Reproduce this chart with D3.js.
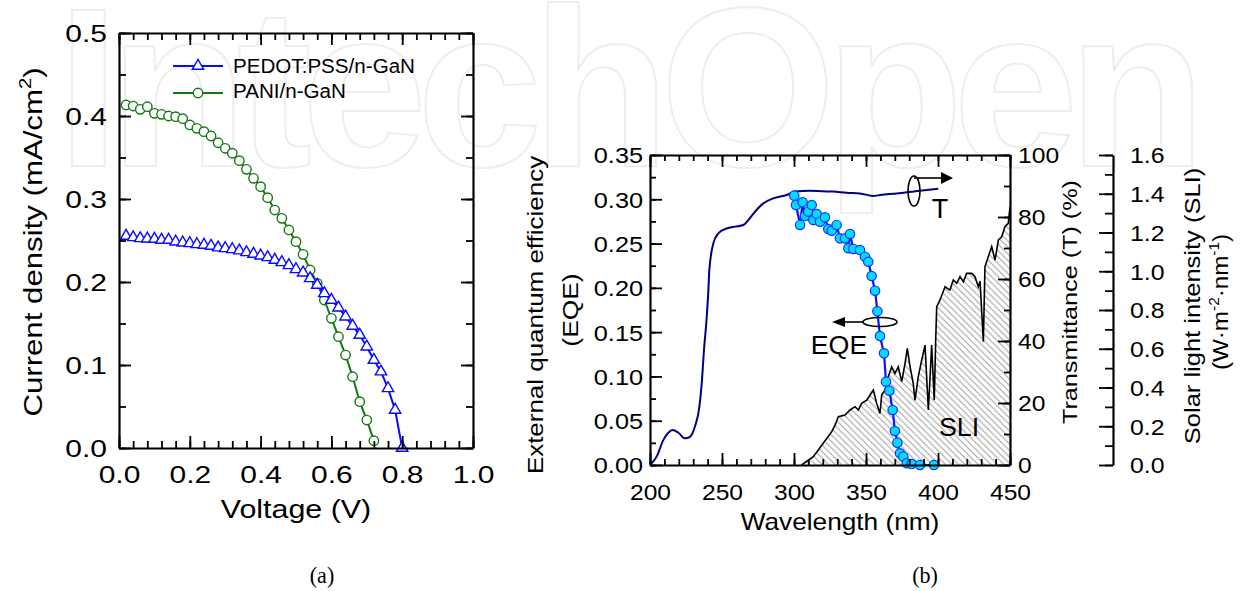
<!DOCTYPE html>
<html>
<head>
<meta charset="utf-8">
<title>J-V curves and EQE / transmittance / solar spectrum</title>
<script src="https://cdn.jsdelivr.net/npm/d3@7"></script>
<style>
  body { margin: 0; background: #fff; }
  svg { display: block; }
</style>
</head>
<body>
<script>
const FONT = "'Liberation Sans', Arial, sans-serif";

// ---- panel (a): current density vs voltage
const pedotV = [0.02,0.04,0.06,0.08,0.10,0.12,0.14,0.16,0.18,0.20,0.22,0.24,0.26,0.28,0.30,0.32,0.34,0.36,0.38,0.40,
                0.42,0.44,0.46,0.48,0.50,0.52,0.54,0.56,0.58,0.60,0.62,0.64,0.66,0.68,0.70,0.72,0.74,0.76,0.78,0.80];
const pedotJ = [0.2554,0.2538,0.2526,0.2522,0.2518,0.2506,0.2506,0.2486,0.2474,0.2466,
                0.2454,0.2446,0.2434,0.2414,0.2406,0.2394,0.2378,0.2357,0.2337,0.2317,
                0.2297,0.2265,0.2237,0.2201,0.2153,0.2112,0.2044,0.1964,0.1863,0.1783,
                0.1691,0.1582,0.1470,0.1361,0.1221,0.1060,0.0920,0.0719,0.0458,0.0];
const paniV = [0.02,0.04,0.06,0.08,0.10,0.12,0.14,0.16,0.18,0.20,0.22,0.24,0.26,0.28,0.30,0.32,0.34,0.36,
               0.38,0.40,0.42,0.44,0.46,0.48,0.50,0.52,0.54,0.56,0.58,0.60,0.62,0.64,0.66,0.68,0.70,0.72];
const paniJ = [0.4133,0.4120,0.4080,0.4112,0.4032,0.4020,0.4000,0.3992,0.3968,0.3892,
               0.3851,0.3811,0.3759,0.3678,0.3611,0.3551,0.3462,0.3357,0.3249,0.3149,
               0.3016,0.2867,0.2767,0.2627,0.2486,0.2333,0.2145,0.1984,0.1783,0.1562,
               0.1341,0.1120,0.0859,0.0558,0.0337,0.0088];
const seriesNames = ['PEDOT:PSS/n-GaN', 'PANI/n-GaN'];
const voltTicks = [0, 0.2, 0.4, 0.6, 0.8, 1.0];
const currTicks = [0, 0.1, 0.2, 0.3, 0.4, 0.5];

// ---- panel (b): transmittance, EQE, solar light intensity
const tWl = [200,204.6,209.3,212.7,215.7,219.7,224.3,227.8,231.2,234.3,235.9,237.5,239.4,240.5,241.2,244,247.4,
             253.2,259,264.8,268.3,272.9,278.7,285.6,294.9,300.7,311,320,327,336.6,345.8,355,360,371.3,387.5,400.2];
const tVal = [0,2.7,8.1,10.4,11.3,10.4,8.6,9.1,12.4,18.8,26.3,37.1,47.8,56,62.9,71.5,74.7,
              76.3,76.9,77.4,79,81.7,84.4,86,87.1,88.2,88.5,88.3,88.2,87.8,87.6,86.8,87.1,87.6,88.5,89.1];
const eqeWl = [300.2,301.4,304.2,306.0,307.6,309.9,312.3,313.4,315.8,318.1,321.5,323.8,326.2,329.6,331.9,335.4,
               337.7,338.9,341.2,345.8,349.3,351.6,353.9,356.3,357.9,359.7,362.5,363.9,366.2,368.5,370.1,371.8,
               373.6,375.9,378.3,381.7,387.5,397.2];
const eqeVal = [0.3041,0.2935,0.2710,0.2966,0.2811,0.2860,0.2935,0.2766,0.2834,0.2747,0.2796,0.2664,0.2645,0.2710,
                0.2559,0.2559,0.2447,0.2608,0.2439,0.2427,0.2352,0.2295,0.2134,0.1968,0.1735,0.1456,0.1261,0.0941,
                0.0839,0.0621,0.0384,0.0252,0.0132,0.0094,0.0019,0.0011,0,0];
const sliWl = [305.3,313.4,320.3,326.2,328.5,330.8,335.4,338.9,342.4,344.7,347,350.5,352.8,355.1,357.4,359.7,
               360.9,363.2,365.5,367.8,370.1,372.4,374.8,377.1,378.7,380.6,382.8,384,386.3,388.7,391,393.3,
               395.6,397.4,398.4,399.1,401.4,404.9,408.3,410.6,413,415.3,417.6,419.9,423.4,425.7,428,429.2,
               431.5,432.6,434.9,437.3,439.6,441.9,444.2,446.5,448.8,450];
const sliVal = [0,0.043,0.112,0.172,0.206,0.249,0.258,0.284,0.301,0.284,0.318,0.335,0.361,0.387,0.318,0.266,
                0.361,0.387,0.456,0.507,0.473,0.507,0.430,0.525,0.602,0.507,0.421,0.335,0.456,0.542,0.619,0.284,
                0.619,0.335,0.645,0.817,0.852,0.92,0.903,0.955,0.938,0.972,0.946,0.989,0.989,0.972,0.92,0.95,
                0.636,1.023,1.075,1.127,1.058,1.161,1.178,1.23,1.247,1.333];
const wlTicks = [200, 250, 300, 350, 400, 450];
const eqeTicks = [0, 0.05, 0.10, 0.15, 0.20, 0.25, 0.30, 0.35];
const tTicks = [0, 20, 40, 60, 80, 100];
const sliTicks = [0, 0.2, 0.4, 0.6, 0.8, 1.0, 1.2, 1.4, 1.6];

const width = 1245, height = 591;
const svg = d3.select('body').append('svg').attr('width', width).attr('height', height);

// faint watermark behind everything, in two words so each fits the page
[['Intech', 57], ['Open', 660]].forEach(([word, wx]) => {
  svg.append('text')
    .attr('x', wx).attr('y', 166)
    .attr('font-family', FONT).attr('font-weight', 'bold').attr('font-size', 226)
    .attr('letter-spacing', -10.5)
    .attr('fill', 'none').attr('stroke', '#eeeeee').attr('stroke-width', 2)
    .text(word);
});

function addText(parent, str, x, y, size, sx, o = {}) {
  return parent.append('text')
    .attr('transform', `translate(${x},${y})${o.rotate ? ` rotate(${o.rotate})` : ''} scale(${sx},1)`)
    .attr('text-anchor', o.anchor || 'middle')
    .attr('font-family', o.family || FONT)
    .attr('font-size', size)
    .attr('fill', '#000')
    .text(str);
}

function drawAxis(parent, orient, scale, pos, major, minor, o = {}) {
  o = Object.assign({len: 12, minorLen: 6, fmt: null, pad: 0, size: 22, sx: 1.15}, o);
  const make = {top: d3.axisTop, bottom: d3.axisBottom, left: d3.axisLeft, right: d3.axisRight}[orient];
  const horiz = orient === 'top' || orient === 'bottom';
  const tr = horiz ? `translate(0,${pos})` : `translate(${pos},0)`;
  parent.append('g').attr('transform', tr)
    .call(make(scale).tickValues(minor).tickSizeInner(-o.minorLen).tickSizeOuter(0).tickFormat(''))
    .call(g => g.select('.domain').remove())
    .call(g => g.selectAll('line').attr('stroke', '#000').attr('stroke-width', 1.8));
  const g = parent.append('g').attr('transform', tr)
    .call(make(scale).tickValues(major).tickSizeInner(-o.len).tickSizeOuter(0)
      .tickFormat(o.fmt ? d3.format(o.fmt) : ''));
  g.selectAll('line').attr('stroke', '#000').attr('stroke-width', 1.8);
  g.select('.domain').attr('stroke', '#000').attr('stroke-width', 2.2);
  const txt = g.selectAll('.tick text');
  if (!o.fmt) { txt.remove(); return g; }
  txt.attr('x', 0).attr('y', 0).attr('dy', null)
    .attr('font-family', FONT).attr('font-size', o.size).attr('fill', '#000');
  if (orient === 'bottom') {
    txt.attr('text-anchor', 'middle').attr('transform', `translate(0,${o.pad}) scale(${o.sx},1)`);
  } else if (orient === 'left') {
    txt.attr('text-anchor', 'end').attr('dy', '0.36em')
      .attr('transform', `translate(${-o.pad},0) scale(${o.sx},1)`);
  } else {
    txt.attr('text-anchor', 'start').attr('dy', '0.36em')
      .attr('transform', `translate(${o.pad},0) scale(${o.sx},1)`);
  }
  return g;
}

// ================= panel (a)
const A = svg.append('g');
const xV = d3.scaleLinear().domain([0, 1]).range([119, 473]);
const yJ = d3.scaleLinear().domain([0, 0.5]).range([448, 33]);

const clipA = svg.append('clipPath').attr('id', 'clipA');
clipA.append('rect').attr('x', 113).attr('y', 27).attr('width', 366).attr('height', 428);

const pedot = pedotV.map((v, i) => [v, pedotJ[i]]);
const pani = paniV.map((v, i) => [v, paniJ[i]]);
const lineA = d3.line().x(d => xV(d[0])).y(d => yJ(d[1]));

const plotA = A.append('g').attr('clip-path', 'url(#clipA)');
plotA.append('path').datum(pani).attr('d', lineA)
  .attr('fill', 'none').attr('stroke', '#127812').attr('stroke-width', 2);
plotA.selectAll('circle.pani').data(pani).join('circle').attr('class', 'pani')
  .attr('cx', d => xV(d[0])).attr('cy', d => yJ(d[1])).attr('r', 4.7)
  .attr('fill', '#fff').attr('stroke', '#127812').attr('stroke-width', 1.4);
plotA.append('path').datum(pedot).attr('d', lineA)
  .attr('fill', 'none').attr('stroke', '#0a0aff').attr('stroke-width', 2);
const tri = d3.symbol(d3.symbolTriangle, 56);
plotA.selectAll('path.pedot').data(pedot).join('path').attr('class', 'pedot')
  .attr('d', tri).attr('transform', d => `translate(${xV(d[0])},${yJ(d[1])})`)
  .attr('fill', '#fff').attr('stroke', '#0a0aff').attr('stroke-width', 1.4);

const vMinor = d3.range(0, 1.0001, 0.04);
const jMinor = d3.range(0, 0.5001, 0.05);
drawAxis(A, 'bottom', xV, 448, voltTicks, vMinor, {fmt: '.1f', pad: 35, size: 24, sx: 1.25, minorLen: 7});
drawAxis(A, 'top', xV, 33, voltTicks, vMinor, {minorLen: 7});
drawAxis(A, 'left', yJ, 119, currTicks, jMinor, {fmt: '.1f', pad: 12, size: 24, sx: 1.25, minorLen: 7});
drawAxis(A, 'right', yJ, 473, currTicks, jMinor, {minorLen: 7});

addText(A, 'Voltage (V)', 296, 518, 26, 1.17);
const cd = addText(A, 'Current density (mA/cm', 42, 242, 26, 1.2, {rotate: -90});
cd.append('tspan').attr('font-size', 17).attr('dy', -11).text('2');
cd.append('tspan').attr('dy', 11).text(')');

// legend
const legA = A.append('g');
[[66, 73, '#0a0aff'], [93, 98, '#127812']].forEach(([ly, by, col], i) => {
  legA.append('line').attr('x1', 173).attr('x2', 223).attr('y1', ly).attr('y2', ly)
    .attr('stroke', col).attr('stroke-width', 2);
  if (i === 0) {
    legA.append('path').attr('d', tri).attr('transform', `translate(198,${ly})`)
      .attr('fill', '#fff').attr('stroke', col).attr('stroke-width', 1.4);
  } else {
    legA.append('circle').attr('cx', 198).attr('cy', ly).attr('r', 4.7)
      .attr('fill', '#fff').attr('stroke', col).attr('stroke-width', 1.4);
  }
  addText(legA, seriesNames[i], 233, by, 20, 1.03, {anchor: 'start'});
});

// ================= panel (b)
const B = svg.append('g');
const xW = d3.scaleLinear().domain([200, 450]).range([650, 1010]);
const yE = d3.scaleLinear().domain([0, 0.35]).range([465, 155]);
const yT = d3.scaleLinear().domain([0, 100]).range([465, 155]);
const yS = d3.scaleLinear().domain([0, 1.6]).range([465, 155]);

const defs = svg.append('defs');
defs.append('clipPath').attr('id', 'clipB')
  .append('rect').attr('x', 650).attr('y', 150).attr('width', 360).attr('height', 315);
const pat = defs.append('pattern').attr('id', 'hatch').attr('patternUnits', 'userSpaceOnUse')
  .attr('width', 6.5).attr('height', 6.5);
pat.append('path').attr('d', 'M-1,-1 L7.5,7.5 M-2,4.5 L2,8.5 M4.5,-2 L8.5,2')
  .attr('stroke', '#9c9c9c').attr('stroke-width', 1);

const plotB = B.append('g').attr('clip-path', 'url(#clipB)');
const sli = sliWl.map((w, i) => [w, sliVal[i]]);
plotB.append('path').datum(sli)
  .attr('d', d3.area().x(d => xW(d[0])).y0(yS(0)).y1(d => yS(d[1])))
  .attr('fill', 'url(#hatch)');
plotB.append('path').datum(sli)
  .attr('d', d3.line().x(d => xW(d[0])).y(d => yS(d[1])))
  .attr('fill', 'none').attr('stroke', '#000').attr('stroke-width', 1.6);

const trans = tWl.map((w, i) => [w, tVal[i]]);
plotB.append('path').datum(trans)
  .attr('d', d3.line().x(d => xW(d[0])).y(d => yT(d[1])).curve(d3.curveMonotoneX))
  .attr('fill', 'none').attr('stroke', '#000080').attr('stroke-width', 2);

const eqe = eqeWl.map((w, i) => [w, eqeVal[i]]);
plotB.append('path').datum(eqe)
  .attr('d', d3.line().x(d => xW(d[0])).y(d => yE(d[1])))
  .attr('fill', 'none').attr('stroke', '#0a14ff').attr('stroke-width', 2.2);
B.selectAll('circle.eqe').data(eqe).join('circle').attr('class', 'eqe')
  .attr('cx', d => xW(d[0])).attr('cy', d => yE(d[1])).attr('r', 4.7)
  .attr('fill', '#00dcff').attr('stroke', '#1030ff').attr('stroke-width', 1.2);

drawAxis(B, 'bottom', xW, 465, wlTicks, d3.range(200, 451, 10), {fmt: 'd', pad: 35, size: 22, sx: 1.12});
drawAxis(B, 'top', xW, 155, wlTicks, d3.range(200, 451, 10), {});
drawAxis(B, 'left', yE, 650, eqeTicks, d3.range(0, 0.3501, 0.025), {fmt: '.2f', pad: 7, size: 22, sx: 1.15});
drawAxis(B, 'right', yT, 1010, tTicks, d3.range(0, 101, 10), {fmt: 'd', pad: 8, size: 22, sx: 1.12});
drawAxis(B, 'right', yS, 1113, sliTicks, d3.range(0, 1.6001, 0.1), {fmt: '.1f', pad: 17, size: 22, sx: 1.13, len: 14, minorLen: 8});

addText(B, 'Wavelength (nm)', 840, 530, 23, 1.14);
addText(B, 'External quantum efficiency', 543, 315, 22, 1.18, {rotate: -90});
addText(B, '(EQE)', 578, 310, 22, 1.2, {rotate: -90});
addText(B, 'Transmittance (T) (%)', 1077, 302, 21, 1.2, {rotate: -90});
addText(B, 'Solar light intensity (SLI)', 1200, 306, 22, 1.16, {rotate: -90});
const unit = addText(B, '(W\u00b7m', 1228, 302, 22, 1.1, {rotate: -90});
unit.append('tspan').attr('font-size', 14).attr('dy', -9).text('-2');
unit.append('tspan').attr('dy', 9).text('\u00b7nm');
unit.append('tspan').attr('font-size', 14).attr('dy', -9).text('-1');
unit.append('tspan').attr('dy', 9).text(')');

// annotations
const ann = B.append('g').attr('fill', 'none').attr('stroke', '#000').attr('stroke-width', 1.6);
ann.append('ellipse').attr('cx', 914).attr('cy', 191).attr('rx', 6).attr('ry', 15);
ann.append('line').attr('x1', 914).attr('y1', 178).attr('x2', 943).attr('y2', 178);
B.append('path').attr('d', 'M941,172 L953,178 L941,184 Z').attr('fill', '#000');
ann.append('ellipse').attr('cx', 880).attr('cy', 322).attr('rx', 17).attr('ry', 4.5);
ann.append('line').attr('x1', 863).attr('y1', 322).attr('x2', 843).attr('y2', 322);
B.append('path').attr('d', 'M845,317 L832,322 L845,327 Z').attr('fill', '#000');
addText(B, 'T', 940, 218, 27, 1.0);
addText(B, 'EQE', 839, 354, 26, 1.03);
addText(B, 'SLI', 959, 436, 26, 1.03);

// captions
addText(svg, '(a)', 322, 583, 24, 0.92, {family: "'Liberation Serif', 'Times New Roman', serif"});
addText(svg, '(b)', 925, 583, 24, 0.92, {family: "'Liberation Serif', 'Times New Roman', serif"});
</script>
</body>
</html>
